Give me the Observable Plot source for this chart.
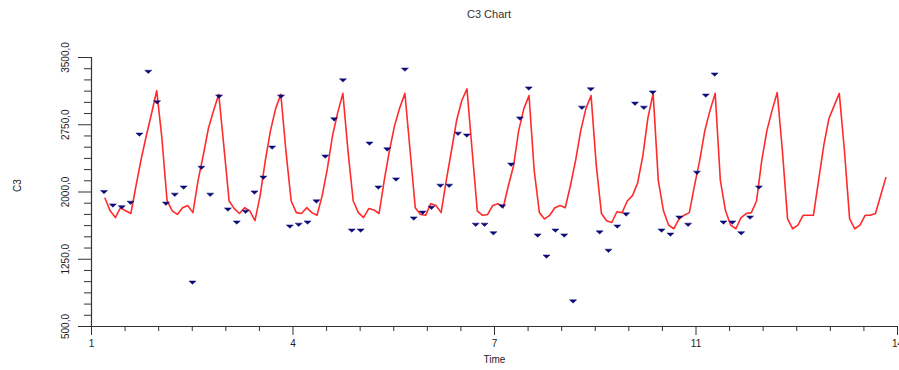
<!DOCTYPE html>
<html>
<head>
<meta charset="utf-8">
<script src="https://cdn.jsdelivr.net/npm/d3@7"></script>
<script src="https://cdn.jsdelivr.net/npm/@observablehq/plot@0.6"></script>
<style>
  body { margin: 0; background: #fff; font-family: "Liberation Sans", Arial, sans-serif; }
  #title { width: 899px; box-sizing: border-box; padding: 7px 0 0 79px; height: 26px; text-align: center; font-size: 11px; line-height: 14px; color: #333; }
</style>
</head>
<body>
<div id="title">C3 Chart</div>
<div id="chart"></div>
<script>
// ---- data ----
const chartTitle = "C3 Chart";
const xLabel = "Time";
const yLabel = "C3";

// regular time grid of the fitted (red) series
const lineStartTime = 1.2235;
const lineStep = 0.08554;
const lineValues = [
  1930, 1790, 1715, 1825, 1790, 1760, 2070, 2370, 2630, 2875, 3130,
  2600, 1905, 1790, 1750, 1825, 1850, 1770, 2130, 2410, 2710, 2910, 3090,
  2500, 1900, 1815, 1760, 1825, 1790, 1680, 1960, 2350, 2685, 2930, 3090,
  2450, 1900, 1770, 1760, 1825, 1770, 1740, 1960, 2260, 2630, 2885, 3100,
  2450, 1900, 1770, 1715, 1815, 1800, 1760, 2130, 2460, 2740, 2940, 3100,
  2460, 1825, 1750, 1740, 1870, 1850, 1770, 2130, 2460, 2800, 3020, 3150,
  2460, 1790, 1740, 1750, 1850, 1870, 1825, 2070, 2290, 2685, 2930, 3075,
  2240, 1770, 1700, 1740, 1825, 1850, 1825, 2070, 2350, 2685, 2930, 3075,
  2300, 1760, 1680, 1660, 1780, 1770, 1900, 1960, 2100, 2400, 2830, 3100,
  2130, 1790, 1630, 1590, 1700, 1740, 1770, 2070, 2350, 2685, 2910, 3100,
  2130, 1790, 1630, 1590, 1715, 1760, 1770, 1900, 2350, 2685, 2910, 3110,
  2460, 1700, 1590, 1630, 1740, 1740, 1740, 2130, 2520, 2820, 2960, 3100,
  2460, 1700, 1590, 1630, 1740, 1740, 1760, 1960, 2160
];

// regular time grid of the observed (blue) points
const pointStartTime = 1.207;
const pointStep = 0.1464;
const pointValues = [
  2000, 1850, 1830, 1880, 2640, 3340, 3000, 1870, 1970, 2050,
  990, 2270, 1970, 3065, 1805, 1660, 1780, 1995, 2160, 2495,
  3065, 1615, 1635, 1660, 1895, 2395, 2810, 3245, 1570, 1570,
  2540, 2050, 2475, 2140, 3365, 1705, 1770, 1825, 2070, 2070,
  2650, 2630, 1635, 1635, 1540, 1840, 2305, 2820, 3155, 1515,
  1280, 1570, 1515, 780, 2940, 3145, 1550, 1345, 1615, 1750,
  2985, 2940, 3110, 1570, 1525, 1715, 1635, 2215, 3075, 3310,
  1660, 1660, 1540, 1715, 2050
];

const yTicks = [500, 1250, 2000, 2750, 3500];
const yTickLabels = ["500,0", "1250,0", "2000,0", "2750,0", "3500,0"];
const yMinorStep = 125;
const xTicks = [1, 4.3333, 7.6667, 11, 14.3333];
const xTickLabels = ["1", "4", "7", "11", "14"];
const xDomain = [1, 14.3333];
const yDomain = [500, 3500];

// ---- tables built from the arrays ----
const lineData = lineValues.map((v, i) => ({t: lineStartTime + i * lineStep, v}));
const pointData = pointValues.map((v, i) => ({t: pointStartTime + i * pointStep, v}));
const yMinor = d3.range(yDomain[0], yDomain[1] + 1, yMinorStep).filter(d => !yTicks.includes(d));
const xMinor = d3.range(0, 25).map(i => xDomain[0] + i * (xDomain[1] - xDomain[0]) / 24).filter((d, i) => i % 6 !== 0);

// flattened down-pointing triangle marker
const marker = {
  draw(context, size) {
    const s = Math.sqrt(size) / 2;
    context.moveTo(-s * 1.8, -s * 0.8);
    context.lineTo(s * 1.8, -s * 0.8);
    context.lineTo(0, s * 0.9);
    context.closePath();
  }
};

document.getElementById("title").textContent = chartTitle;

const axisColor = "#333";
const chart = Plot.plot({
  width: 899,
  height: 344,
  marginTop: 31,
  marginBottom: 44,
  marginLeft: 91,
  marginRight: 2,
  style: {fontFamily: "'Liberation Sans', Arial, sans-serif", fontSize: "10px", color: "#222", background: "#fff", overflow: "visible"},
  x: {domain: xDomain, label: null},
  y: {domain: yDomain, label: null},
  marks: [
    Plot.ruleX([xDomain[0]], {stroke: axisColor, strokeWidth: 1.2}),
    Plot.ruleY([yDomain[0]], {stroke: axisColor, strokeWidth: 1.2}),
    Plot.axisY(yMinor, {tickSize: 7, tickFormat: () => "", stroke: axisColor, label: null}),
    Plot.axisY(yTicks, {tickSize: 13, tickPadding: 10, tickRotate: -90, stroke: axisColor, label: null,
      tickFormat: d => yTickLabels[yTicks.indexOf(d)]}),
    Plot.axisX(xMinor, {tickSize: 5, tickFormat: () => "", stroke: axisColor, label: null}),
    Plot.axisX(xTicks, {tickSize: 9, tickPadding: 4, stroke: axisColor, label: null,
      tickFormat: d => xTickLabels[xTicks.indexOf(d)]}),
    Plot.line(lineData, {x: "t", y: "v", stroke: "#ff2b2b", strokeWidth: 1.6}),
    Plot.dot(pointData, {x: "t", y: "v", symbol: marker, r: 2.2, fill: "#0a0a78", stroke: "#0a0a78", strokeWidth: 0.5}),
    Plot.text([yLabel], {frameAnchor: "left", dx: -74, rotate: -90, fontSize: 10, fill: "#222"}),
    Plot.text([xLabel], {frameAnchor: "bottom", dy: 36, fontSize: 10, fill: "#222"})
  ]
});
document.getElementById("chart").appendChild(chart);
</script>
</body>
</html>
